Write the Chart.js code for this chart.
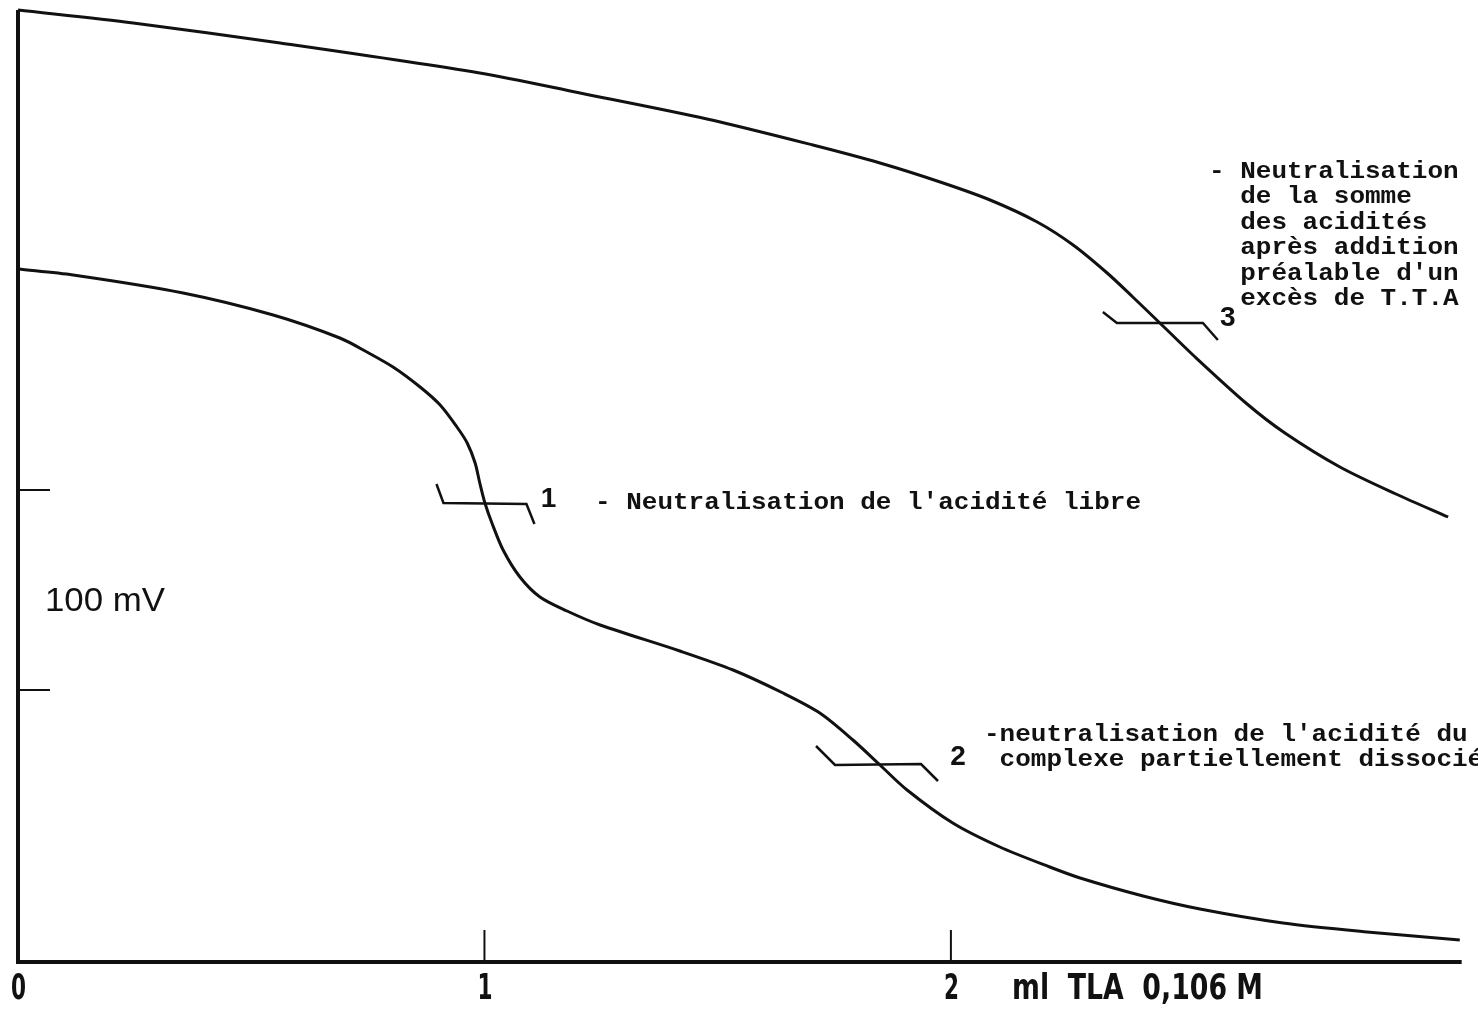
<!DOCTYPE html>
<html>
<head>
<meta charset="utf-8">
<script src="https://cdn.jsdelivr.net/npm/chart.js@4.4.1/dist/chart.umd.min.js"></script>
<style>
  body { margin: 0; background: #fff; }
  #wrap { width: 1478px; height: 1009px; position: relative; }
</style>
</head>
<body>
<div id="wrap"><canvas id="c"></canvas></div>
<script>
// curve 1/2 : free acidity then complex (ml TLA, mV above baseline)
const freeX = [0, 0.118, 0.354, 0.547, 0.69, 0.748, 0.804, 0.862, 0.905, 0.941, 0.963, 0.98, 0.99, 1.001, 1.016, 1.04, 1.076, 1.119, 1.177, 1.248, 1.419, 1.533, 1.64, 1.719, 1.79, 1.848, 1.906, 2.004, 2.105, 2.212, 2.277, 2.412, 2.534, 2.712, 2.892, 3.091];
const freeY = [346.5, 343.5, 334.5, 323.5, 312, 305, 297.5, 287.5, 278.5, 267.5, 259.5, 249.5, 239.5, 229.5, 219.5, 206, 192.5, 182.5, 175.5, 168.5, 155.5, 146, 134.5, 124.5, 111, 98.5, 86, 69.5, 57.5, 47.5, 42, 33, 26.5, 19.5, 15, 11];
// curve 3 : total acidity after excess of T.T.A
const sumX = [0, 0.247, 0.562, 0.99, 1.205, 1.477, 1.704, 1.848, 1.977, 2.084, 2.185, 2.262, 2.335, 2.39, 2.448, 2.519, 2.635, 2.716, 2.834, 2.954, 3.066];
const sumY = [476, 469.5, 459.5, 444.5, 434.5, 421.5, 408.5, 399.5, 390, 381, 370, 358.5, 344.5, 332.5, 319.5, 303.5, 279, 264.5, 247.5, 234, 222.5];

const xTicks = [0, 1, 2];
const xTickLabels = ['0', '1', '2'];
const yTicks = [136, 236];
const xTitle = 'ml  TLA  0,106 M';
const yTitle = '100 mV';

// equivalence points marked on the curves
const marks = [
  { x: 1.0, y: 229.5, num: '1', lines: ['- Neutralisation de l\'acidité libre'] },
  { x: 1.848, y: 98.5, num: '2', lines: ['-neutralisation de l\'acidité du', ' complexe partiellement dissocié'] },
  { x: 2.448, y: 319.5, num: '3', lines: ['- Neutralisation', '  de la somme', '  des acidités', '  après addition', '  préalable d\'un', '  excès de T.T.A'] }
];

function pts(xs, ys) { return xs.map((x, i) => ({ x: x, y: ys[i] })); }

function fitText(ctx, text, x, y, w) {
  const m = ctx.measureText(text).width;
  ctx.save();
  ctx.translate(x, y);
  ctx.scale(w / m, 1);
  ctx.fillText(text, 0, 0);
  ctx.restore();
}

const paper = {
  id: 'paper',
  beforeDatasetsDraw(chart) {
    const ctx = chart.ctx, xs = chart.scales.x, ys = chart.scales.y;
    const x0 = xs.getPixelForValue(0), y0 = ys.getPixelForValue(0);
    ctx.save();
    ctx.strokeStyle = '#111';
    ctx.lineCap = 'butt';
    // axes
    ctx.lineWidth = 4;
    ctx.beginPath();
    ctx.moveTo(x0, ys.getPixelForValue(sumY[0]));
    ctx.lineTo(x0, y0);
    ctx.lineTo(xs.getPixelForValue(3.095), y0);
    ctx.stroke();
    // inner ticks
    ctx.lineWidth = 2;
    xTicks.forEach(v => {
      if (v === 0) return;
      const p = xs.getPixelForValue(v);
      ctx.beginPath(); ctx.moveTo(p, y0); ctx.lineTo(p, y0 - 32); ctx.stroke();
    });
    yTicks.forEach(v => {
      const p = ys.getPixelForValue(v);
      ctx.beginPath(); ctx.moveTo(x0, p); ctx.lineTo(x0 + 32, p); ctx.stroke();
    });
    // tick labels + axis titles
    ctx.fillStyle = '#111';
    ctx.textBaseline = 'middle';
    ctx.textAlign = 'left';
    ctx.font = 'bold 36px "Liberation Sans Narrow", "DejaVu Sans Condensed", sans-serif';
    xTicks.forEach((v, i) => {
      const p = xs.getPixelForValue(v);
      fitText(ctx, xTickLabels[i], p - 7, 990, 15);
    });
    fitText(ctx, xTitle, 1012, 990, 251);
    ctx.font = '34px "Liberation Sans", Arial, sans-serif';
    fitText(ctx, yTitle, 45, 602, 120);
    ctx.restore();
  },
  afterDatasetsDraw(chart) {
    const ctx = chart.ctx, xs = chart.scales.x, ys = chart.scales.y;
    ctx.save();
    ctx.strokeStyle = '#111';
    ctx.fillStyle = '#111';
    ctx.lineWidth = 2.5;
    ctx.textBaseline = 'middle';
    const shapes = [
      [[-48, -19], [-41, 0], [42, 1], [50, 21]],
      [[-64, -19], [-45, 0], [41, -1], [58, 16]],
      [[-57, -11], [-43, 0], [43, 0], [58, 17]]
    ];
    marks.forEach((m, k) => {
      const px = xs.getPixelForValue(m.x), py = ys.getPixelForValue(m.y);
      // bracket  \____\
      ctx.beginPath();
      shapes[k].forEach((o, j) => j ? ctx.lineTo(px + o[0], py + o[1]) : ctx.moveTo(px + o[0], py + o[1]));
      ctx.stroke();
      ctx.font = 'bold 28px "Liberation Sans", Arial, sans-serif';
      ctx.textAlign = 'center';
      const numOff = [[64, -4], [78, -8], [68, -5]][k];
      ctx.fillText(m.num, px + numOff[0], py + numOff[1]);
      ctx.textAlign = 'left';
      ctx.font = 'bold 24px "Liberation Mono", "DejaVu Sans Mono", monospace';
      const txtOff = [[595, 503], [984, 735], [1209, 172]][k];
      m.lines.forEach((t, j) => {
        fitText(ctx, t, txtOff[0], txtOff[1] + j * 25.4, t.length * 15.6);
      });
    });
    ctx.restore();
  }
};

new Chart(document.getElementById('c'), {
  type: 'line',
  data: {
    datasets: [
      { data: pts(freeX, freeY), borderColor: '#111', borderWidth: 3, pointRadius: 0, tension: 0.3, fill: false, clip: false },
      { data: pts(sumX, sumY), borderColor: '#111', borderWidth: 3, pointRadius: 0, tension: 0.3, fill: false, clip: false }
    ]
  },
  options: {
    responsive: true,
    maintainAspectRatio: false,
    animation: false,
    layout: { padding: { left: 18, right: 14, top: 3, bottom: 47 } },
    plugins: { legend: { display: false }, tooltip: { enabled: false } },
    scales: {
      x: { type: 'linear', min: 0, max: 3.1, display: false },
      y: { type: 'linear', min: 0, max: 479.5, display: false }
    }
  },
  plugins: [paper]
});
</script>
</body>
</html>
